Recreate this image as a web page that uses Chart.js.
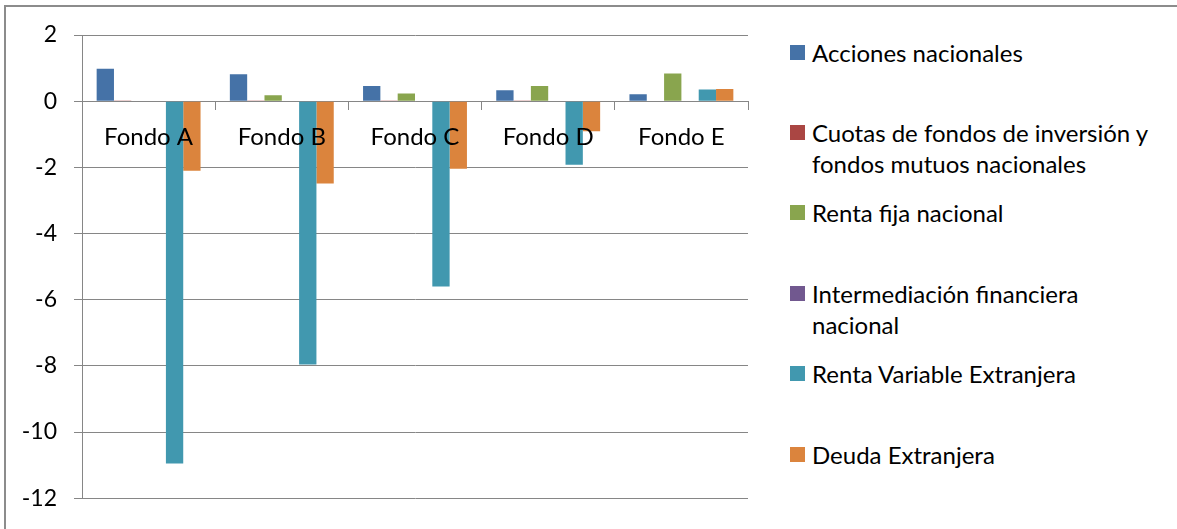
<!DOCTYPE html>
<html>
<head>
<meta charset="utf-8">
<script src="https://cdn.jsdelivr.net/npm/chart.js@4"></script>
<style>
  body { margin: 0; background: #fff; overflow: hidden; }
  #frame {
    position: absolute; left: 4px; top: 5px; width: 1200px; height: 600px;
    border-left: 2px solid #8c8c8c; border-top: 2px solid #8c8c8c;
  }
  #chart { position: absolute; left: 0; top: 0; }
  #legend { position: absolute; left: 790px; top: 0; font-family: Lato, "Open Sans", sans-serif; font-size: 24px; color: #000; }
  .item { position: absolute; left: 0; width: 385px; line-height: 31px; }
  .item .box { position: absolute; left: 0; top: 8px; width: 15px; height: 15px; }
  .item .txt { position: absolute; left: 22px; white-space: nowrap; }
</style>
</head>
<body>
<div id="frame"></div>
<canvas id="chart" width="760" height="529"></canvas>
<div id="legend"></div>
<script>
const categories = ["Fondo A", "Fondo B", "Fondo C", "Fondo D", "Fondo E"];
const seriesNames = [
  ["Acciones nacionales"],
  ["Cuotas de fondos de inversión y", "fondos mutuos nacionales"],
  ["Renta fija nacional"],
  ["Intermediación financiera", "nacional"],
  ["Renta Variable Extranjera"],
  ["Deuda Extranjera"]
];
const seriesColors = ["#4572A7", "#AA4643", "#89A54E", "#71588F", "#4198AF", "#DB843D"];

// valores
const accionesNacionales = [0.98, 0.81, 0.46, 0.33, 0.21];
const cuotasFondos = [0.02, 0.02, 0.02, 0.02, 0.01];
const rentaFijaNacional = [0, 0.18, 0.23, 0.46, 0.84];
const intermediacion = [0, 0, 0, 0, 0];
const rentaVariableExt = [-10.95, -7.96, -5.6, -1.92, 0.35];
const deudaExtranjera = [-2.1, -2.49, -2.04, -0.91, 0.37];
const yTicks = [2, 0, -2, -4, -6, -8, -10, -12];

const seriesValues = [accionesNacionales, cuotasFondos, rentaFijaNacional, intermediacion, rentaVariableExt, deudaExtranjera];

const FONT = "Lato, 'Open Sans', sans-serif";
const GRID = "#868686";

const datasets = seriesValues.map((vals, i) => ({
  label: seriesNames[i].join(" "),
  data: vals,
  backgroundColor: seriesColors[i],
  borderWidth: 0,
  categoryPercentage: 0.78,
  barPercentage: 1.0
}));

new Chart(document.getElementById("chart"), {
  type: "bar",
  data: { labels: categories, datasets: datasets },
  options: {
    responsive: false,
    animation: false,
    layout: { padding: { left: 0, top: 35, right: 12, bottom: 27 } },
    scales: {
      x: {
        position: { y: 0 },
        afterFit: (scale) => { scale.height = 0; }, // el eje va sobre el cero, no ocupa espacio abajo
        grid: { display: true, drawOnChartArea: false, offset: true, color: GRID, tickLength: 8, tickColor: GRID },
        border: { display: true, color: GRID, width: 1 },
        ticks: { z: 1, color: "#000", font: { family: FONT, size: 24 }, padding: 14, maxRotation: 0, autoSkip: false }
      },
      y: {
        min: -12, max: 2,
        afterBuildTicks: (scale) => { scale.ticks = yTicks.map((v) => ({ value: v })); },
        afterFit: (scale) => { scale.width = 82; },
        grid: { color: GRID, tickLength: 8, tickColor: GRID, lineWidth: 1 },
        border: { display: true, color: GRID },
        ticks: { color: "#000", font: { family: FONT, size: 23 }, padding: 17 }
      }
    },
    plugins: { legend: { display: false }, tooltip: { enabled: false } }
  }
});

// leyenda en HTML para permitir etiquetas de dos líneas
const legend = document.getElementById("legend");
seriesNames.forEach((lines, i) => {
  const item = document.createElement("div");
  item.className = "item";
  item.style.top = (36.5 + i * 80.4) + "px";
  item.innerHTML = `<div class="box" style="background:${seriesColors[i]}"></div><div class="txt">${lines.join("<br>")}</div>`;
  legend.appendChild(item);
});
</script>
</body>
</html>
